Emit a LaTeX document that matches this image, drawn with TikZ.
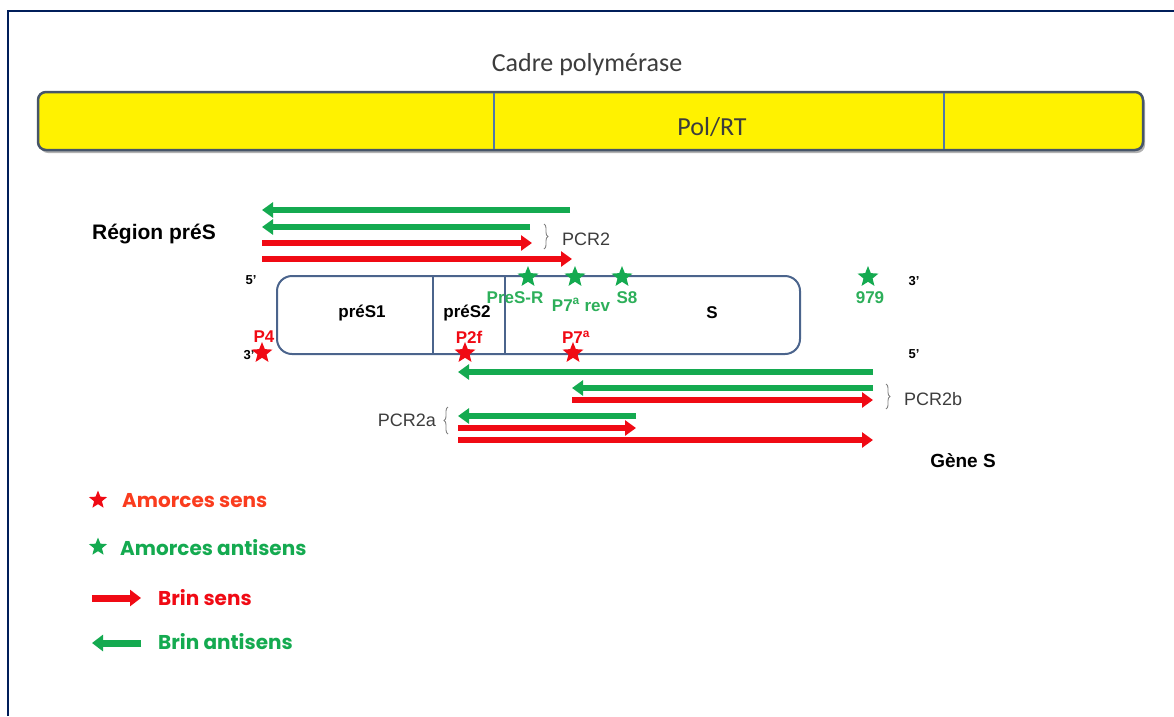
\documentclass[tikz,border=0pt]{standalone}
\usepackage{fontspec}
\setmainfont{Liberation Sans}
\newfontfamily\calibfont{Carlito}
\newfontfamily\legfont{Poppins}
\usetikzlibrary{arrows.meta,shapes.geometric,decorations.pathreplacing}
\definecolor{sensred}{RGB}{240,10,20}
\definecolor{legred}{RGB}{250,60,30}
\definecolor{antigreen}{RGB}{20,170,80}
\definecolor{labgreen}{RGB}{45,175,90}
\definecolor{boxblue}{RGB}{75,100,140}
\definecolor{barline}{RGB}{70,85,105}
\definecolor{divblue}{RGB}{80,120,170}
\definecolor{framenavy}{RGB}{0,30,90}
\definecolor{titlegray}{RGB}{60,60,60}
\newcommand{\fsz}[1]{\fontsize{#1}{#1}\selectfont}
\tikzset{
  sensarrow/.style={draw=sensred, line width=5.5pt, -{Triangle[length=11pt,width=15pt]}},
  antiarrow/.style={draw=antigreen, line width=5.5pt, -{Triangle[length=11pt,width=15pt]}},
  senstar/.style={star, star points=5, star point ratio=2.3, fill=sensred, inner sep=0pt, minimum size=22pt},
  antistar/.style={star, star points=5, star point ratio=2.3, fill=antigreen, inner sep=0pt, minimum size=22pt},
  senslabel/.style={text=sensred, font=\bfseries\fsz{17}, inner sep=0pt},
  antilabel/.style={text=labgreen, font=\bfseries\fsz{17}, inner sep=0pt},
  endlabel/.style={font=\bfseries\fsz{13}, inner sep=0pt},
  pcrlabel/.style={text=titlegray, font=\fsz{18}, inner sep=0pt},
  pcrbrace/.style={draw=gray, line width=0.9pt, decorate, decoration={brace, amplitude=4pt}},
  legtext/.style={font=\legfont\bfseries\fsz{20}, anchor=west, inner sep=0pt}
}
\begin{document}
\begin{tikzpicture}[x=1pt, y=-1pt]
\useasboundingbox (0,0) rectangle (1174,716);
% frame
\draw[framenavy, line width=2.5pt] (8,716) -- (8,11) -- (1174,11);

% polymerase frame
\node (cadre) [text=titlegray, font=\calibfont\fsz{26}] at (587,65) {Cadre polymérase};
\fill[black!30, rounded corners=8pt] (40,95) rectangle (1145,153);
\draw[fill=yellow, draw=barline, line width=2.5pt, rounded corners=8pt] (38,92) rectangle (1143,150);
\draw[divblue, line width=1.2pt] (494,93) -- (494,149);
\draw[divblue, line width=1.2pt] (944,93) -- (944,149);
\node (polrt) [text=titlegray, font=\calibfont\fsz{26}] at (712,127) {Pol/RT};

% preS region strands
\node (regions) [font=\bfseries\fsz{21}] at (154,234) {Région préS};
\draw[antiarrow] (570,210) -- (262,210);
\draw[antiarrow] (530,227) -- (262,227);
\draw[sensarrow] (262,243) -- (532,243);
\draw[sensarrow] (262,259) -- (572,259);
\draw[pcrbrace] (544,224) -- (544,249);
\node (pcrtwo) [pcrlabel, anchor=west] at (562,239) {PCR2};

% genome box
\draw[boxblue, line width=2pt, rounded corners=15pt] (277,276) rectangle (800,354);
\draw[boxblue, line width=1.5pt] (433,277) -- (433,353);
\draw[boxblue, line width=1.5pt] (505,277) -- (505,353);
\node (pres1) [font=\bfseries\fsz{17}] at (362,313) {préS1};
\node (pres2) [font=\bfseries\fsz{17}] at (467,313) {préS2};
\node (sgene) [font=\bfseries\fsz{17}] at (712,313) {S};
\node (fivel) [endlabel] at (251,280) {5'};
\node (threel) [endlabel] at (249,355) {3'};
\node (threer) [endlabel] at (914,281) {3'};
\node (fiver) [endlabel] at (914,354) {5'};

% antisense primers
\node (presr) [antistar] at (528,277) {};
\node (p7rev) [antistar] at (575,277) {};
\node (s8) [antistar] at (622,277) {};
\node (p979) [antistar] at (868,277) {};
\node [antilabel] at (515,298) {PreS-R};
\node [antilabel] at (581,305) {P7\textsuperscript{a} rev};
\node [antilabel] at (627,298) {S8};
\node [antilabel] at (870,298) {979};

% sense primers
\node (p4) [senstar] at (262,353) {};
\node (p2f) [senstar] at (465,353) {};
\node (p7) [senstar] at (573,353) {};
\node [senslabel] at (264,337) {P4};
\node [senslabel] at (469,337) {P2f};
\node [senslabel] at (576,337) {P7\textsuperscript{a}};

% S gene strands
\draw[antiarrow] (873,372) -- (458,372);
\draw[antiarrow] (873,388) -- (572,388);
\draw[sensarrow] (572,400) -- (873,400);
\draw[pcrbrace] (886,384) -- (886,409);
\node (pcrtwob) [pcrlabel, anchor=west] at (904,399) {PCR2b};
\draw[antiarrow] (636,416) -- (458,416);
\draw[sensarrow] (458,428) -- (636,428);
\draw[sensarrow] (458,440) -- (873,440);
\draw[pcrbrace] (448,434) -- (448,407);
\node (pcrtwoa) [pcrlabel, anchor=east] at (436,420) {PCR2a};
\node (genes) [font=\bfseries\fsz{19}] at (963,461) {Gène S};

% legend
\node (legsens) [senstar, minimum size=19pt] at (98,500) {};
\node [legtext, text=legred] at (122,501) {Amorces sens};
\node (legantisens) [antistar, minimum size=19pt] at (98,547) {};
\node [legtext, text=antigreen] at (120,548) {Amorces antisens};
\draw[draw=sensred, line width=7pt, -{Triangle[length=11pt,width=16pt]}] (92,598) -- (141,598);
\node [legtext, text=sensred] at (158,598) {Brin sens};
\draw[draw=antigreen, line width=7pt, -{Triangle[length=11pt,width=16pt]}] (141,643) -- (92,643);
\node [legtext, text=antigreen] at (158,642) {Brin antisens};
\end{tikzpicture}
\end{document}
